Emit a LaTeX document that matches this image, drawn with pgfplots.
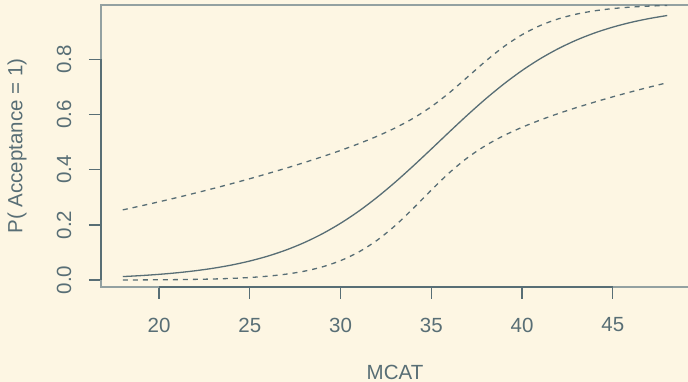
\documentclass[border=0pt]{standalone}
\usepackage{pgfplots}
\usepackage{pgfplotstable}
\pgfplotsset{compat=1.18}
\usepackage{fontspec}
\setmainfont{Liberation Sans}
\definecolor{bg}{HTML}{FDF6E3}
\definecolor{fg}{HTML}{586E75}
\definecolor{boxc}{HTML}{93A1A1}

\pgfplotstableread{
x   fit     lo        up
18  0.01274 0.000488  0.2545
19  0.01630 0.000746  0.2689
20  0.02084 0.001143  0.2838
21  0.02660 0.001746  0.2993
22  0.03389 0.002664  0.3155
23  0.04311 0.004062  0.3322
24  0.05468 0.006187  0.3495
25  0.06914 0.009403  0.3675
26  0.08707 0.01425   0.3863
27  0.1091  0.02150   0.4057
28  0.1359  0.03224   0.4260
29  0.1680  0.04795   0.4473
30  0.2059  0.07047   0.4699
31  0.2497  0.1018    0.4943
32  0.2994  0.1438    0.5209
33  0.3543  0.1970    0.5511
34  0.4134  0.2595    0.5863
35  0.4750  0.3261    0.6286
36  0.5374  0.3894    0.6792
37  0.5987  0.4437    0.7362
38  0.6570  0.4879    0.7939
39  0.7109  0.5237    0.8462
40  0.7595  0.5538    0.8893
41  0.8022  0.5800    0.9225
42  0.8389  0.6036    0.9468
43  0.8699  0.6252    0.9640
44  0.8957  0.6452    0.9759
45  0.9168  0.6642    0.9840
46  0.9340  0.6821    0.9894
47  0.9478  0.6991    0.9930
48  0.9589  0.7153    0.9954
}\data

\begin{document}
\begin{tikzpicture}[x=1pt,y=1pt]
\useasboundingbox (0,0) rectangle (688,382);
\fill[bg] (0,0) rectangle (688,382);
\begin{axis}[
  at={(101pt,95pt)}, anchor=south west,
  scale only axis, width=588pt, height=282pt,
  xmin=16.8, xmax=49.2, ymin=-0.025, ymax=0.997,
  clip=false,
  axis line style={boxc, line width=1.2pt},
  tick pos=left, tick align=outside, major tick length=12pt,
  tick style={fg, line width=1.2pt},
  xtick={20,25,30,35,40,45}, xticklabels={20,25,30,35,40,45},
  ytick={0,0.2,0.4,0.6,0.8}, yticklabels={0.0,0.2,0.4,0.6,0.8},
  ticklabel style={font=\fontsize{20.5}{24}\selectfont, text=fg},
  xticklabel style={anchor=center, yshift=-26pt},
  yticklabel style={xshift=-25pt, rotate=90, anchor=center},
  xlabel={MCAT}, ylabel={P( Acceptance = 1)},
  label style={font=\fontsize{20.5}{24}\selectfont, text=fg},
  xlabel style={at={(axis description cs:0.5,-0.3014)}, anchor=center},
  ylabel style={at={(axis description cs:-0.1429,0.5)}, anchor=center},
]
\addplot[fg, line width=1.3pt, smooth] table[x=x, y=fit] {\data};
\addplot[fg, line width=1.3pt, dash pattern=on 5pt off 5pt, smooth] table[x=x, y=lo] {\data};
\addplot[fg, line width=1.3pt, dash pattern=on 5pt off 5pt, smooth] table[x=x, y=up] {\data};
\coordinate (b1) at (axis cs:20,-0.025);
\coordinate (b2) at (axis cs:45,-0.025);
\coordinate (l1) at (axis cs:16.8,0);
\coordinate (l2) at (axis cs:16.8,0.8);
\end{axis}
\draw[fg, line width=1.2pt] (b1) -- (b2);
\draw[fg, line width=1.2pt] (l1) -- (l2);
\end{tikzpicture}
\end{document}
